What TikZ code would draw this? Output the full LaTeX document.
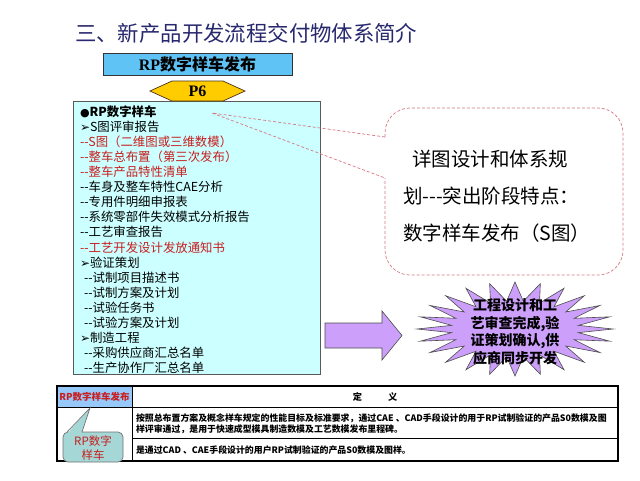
\documentclass[tikz,border=0pt]{standalone}
\usepackage{fontspec}
\setmainfont{Noto Sans CJK SC}
\newfontfamily\lserif{Liberation Serif}
\newfontfamily\dejavu{DejaVu Sans}
\definecolor{titleblue}{RGB}{40,40,110}
\definecolor{boxblue}{RGB}{95,195,245}
\definecolor{pgold}{RGB}{255,204,0}
\definecolor{listbg}{RGB}{204,255,255}
\definecolor{listred}{RGB}{200,30,30}
\definecolor{dashpink}{RGB}{215,120,130}
\definecolor{lav}{RGB}{204,160,250}
\definecolor{hdrblue}{RGB}{150,200,250}
\definecolor{calteal}{RGB}{165,215,215}
\newcommand{\arr}{{\dejavu\fontsize{12}{13}\selectfont ➢}}
\begin{document}
\begin{tikzpicture}[x=1pt,y=-1pt,
  every node/.style={inner sep=0pt,outer sep=0pt},
  litem/.style={anchor=west,font=\fontsize{12.4}{14}\selectfont},
  ritem/.style={litem,text=listred},
  callout/.style={draw=dashpink,dash pattern=on 3pt off 2pt,line width=0.7pt},
  ctext/.style={anchor=west,font=\fontsize{19.5}{22}\selectfont},
  shapeline/.style={draw=black!70,line width=0.6pt},
  tcell/.style={anchor=west,font=\fontsize{8.9}{11}\selectfont\bfseries}]
\useasboundingbox (0,0) rectangle (640,480);
\fill[white] (0,0) rectangle (640,480);

% title
\node[anchor=west,font=\fontsize{21.4}{24}\selectfont,text=titleblue] (title) at (75,33) {三、新产品开发流程交付物体系简介};

% release box
\node[draw=black!80,fill=boxblue,minimum width=189pt,minimum height=22pt,font=\fontsize{16}{18}\selectfont\bfseries] (rel) at (197.5,64) {{\lserif RP}数字样车发布};

% list box
\node[draw=black!65,fill=listbg,line width=0.8pt,minimum width=247pt,minimum height=273pt,anchor=north west] (list) at (73,101.5) {};

% P6 hexagon
\draw[fill=pgold,draw=black!60!brown,line width=0.7pt] (150,91) -- (172,81) -- (223,81) -- (245,91) -- (223,101) -- (172,101) -- cycle;
\node[font=\fontsize{16}{18}\selectfont\bfseries\lserif] (p6) at (197.5,91) {P6};

% list items
\node[litem,font=\fontsize{12.4}{14}\selectfont\bfseries] (l1) at (80,112) {{\dejavu\fontsize{11}{12}\selectfont ●}RP数字样车};
\node[litem] (l2) at (80,127) {\arr S图评审报告};
\node[ritem] (l3) at (80,142) {-{}-S图（二维图或三维数模）};
\node[ritem] (l4) at (80,157) {-{}-整车总布置（第三次发布）};
\node[ritem] (l5) at (80,172) {-{}-整车产品特性清单};
\node[litem] (l6) at (80,187) {-{}-车身及整车特性CAE分析};
\node[litem] (l7) at (80,202) {-{}-专用件明细申报表};
\node[litem] (l8) at (80,217) {-{}-系统零部件失效模式分析报告};
\node[litem] (l9) at (80,232) {-{}-工艺审查报告};
\node[ritem] (l10) at (80,247.5) {-{}-工艺开发设计发放通知书};
\node[litem] (l11) at (80,262.5) {\arr 验证策划};
\node[litem] (l12) at (84,277.5) {-{}-试制项目描述书};
\node[litem] (l13) at (84,292.5) {-{}-试制方案及计划};
\node[litem] (l14) at (84,307.5) {-{}-试验任务书};
\node[litem] (l15) at (84,322.5) {-{}-试验方案及计划};
\node[litem] (l16) at (80,337.5) {\arr 制造工程};
\node[litem] (l17) at (84,352.5) {-{}-采购供应商汇总名单};
\node[litem] (l18) at (84,367.5) {-{}-生产协作厂汇总名单};

% callout
\coordinate (tip) at (212,113);
\coordinate (ca) at (385,137);
\coordinate (cb) at (385,178);
\draw[callout,rounded corners=25pt] (ca) -- (385,108) -- (623,108) -- (623,275) -- (385,275) -- (cb);
\draw[callout] (ca) -- (tip) -- (cb);
\node[ctext] (c1) at (412,159) {详图设计和体系规};
\node[ctext] (c2) at (403,196) {划-{}-{}-突出阶段特点：};
\node[ctext] (c3) at (403,233) {数字样车发布（S图）};

% arrow
\draw[shapeline,fill=lav] (325,323) -- (382,323) -- (382,311) -- (402,335.5) -- (382,360) -- (382,348) -- (325,348) -- cycle;

% starburst
\draw[shapeline,fill=lav] (613,329)
  \foreach \a in {0,15,...,345} {
    -- ({515+98*cos(\a)},{329+47*sin(\a)})
    -- ({515+64*cos(\a+7.5)},{329+28*sin(\a+7.5)})
  } -- cycle;
\node[align=center,font=\fontsize{14}{17.5}\selectfont\bfseries] (burst) at (515,332)
  {工程设计和工\\艺审查完成,验\\证策划确认,供\\应商同步开发};

% table
\fill[hdrblue] (57,386) rectangle (132,407);
\draw[line width=0.9pt] (57,407) -- (618,407);
\draw[line width=0.9pt] (132,438) -- (618,438);
\draw[line width=1pt] (132,386) -- (132,461);
\draw[line width=1.8pt] (57,386) rectangle (618,461);
\node[font=\fontsize{9.5}{11}\selectfont\bfseries,text=listred] (h1) at (94.5,396.5) {RP数字样车发布};
\node[font=\fontsize{9.2}{11}\selectfont\bfseries] (h2) at (375,396.5) {定\hspace{26pt}义};
\node[tcell] (r2a) at (136,418) {按照总布置方案及概念样车规定的性能目标及标准要求，通过CAE 、CAD手段设计的用于RP试制验证的产品S0数模及图};
\node[tcell] (r2b) at (136,429) {样评审通过，是用于快速成型模具制造数模及工艺数模发布里程碑。};
\node[tcell] (r3) at (136,450) {是通过CAD 、CAE手段设计的用户RP试制验证的产品S0数模及图样。};

% teal callout
\draw[fill=calteal,draw=black!55,line width=0.7pt,rounded corners=5pt] (63,432) rectangle (123,462);
\fill[calteal] (67.5,433) -- (90,408) -- (81.5,433) -- cycle;
\draw[draw=black!55,line width=0.7pt] (67,432) -- (90,408) -- (82,432);
\node[align=center,font=\fontsize{11.5}{14}\selectfont,text=listred] (tc) at (93,448) {RP数字\\样车};
\end{tikzpicture}
\end{document}
